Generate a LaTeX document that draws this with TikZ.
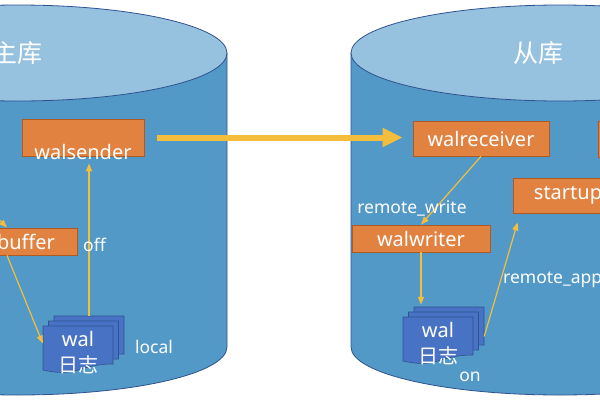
\documentclass[tikz,border=0pt]{standalone}
\usepackage{fontspec}
\setmainfont{Noto Sans}
\newfontfamily\cjk{Noto Sans CJK SC}
\usetikzlibrary{arrows.meta}
\definecolor{body}{HTML}{5299C8}
\definecolor{lid}{HTML}{96C2E0}
\definecolor{rim}{HTML}{2F528F}
\definecolor{procfill}{HTML}{E28241}
\definecolor{procline}{HTML}{AE5A21}
\definecolor{pagefill}{HTML}{4872C4}
\definecolor{flow}{HTML}{F4BE3C}
% one sheet of the wal stack, top left corner given
\newcommand\walpage[2]{%
  \path[page] ({#1},{#2}) -- ({#1+70},{#2}) -- ({#1+70},{#2+38})
    .. controls ({#1+35},{#2+38}) and ({#1+35},{#2+52}) .. ({#1},{#2+44}) -- cycle;}
\begin{document}
\begin{tikzpicture}[x=1pt,y=-1pt,
    cylbody/.style={fill=body,draw=rim,line width=0.8pt},
    cyltop/.style={fill=lid,draw=rim,line width=0.8pt},
    proc/.style={fill=procfill,draw=procline,line width=0.8pt,text=white,
      font=\fontsize{20}{24}\selectfont,inner sep=0pt},
    proctxt/.style={text=white,inner sep=0pt,font=\fontsize{20}{24}\selectfont},
    page/.style={fill=pagefill,draw=rim,line width=0.6pt},
    pagebox/.style={minimum width=70pt,minimum height=47pt,inner sep=0pt},
    doctxt/.style={pagebox,text=white,align=center,font=\fontsize{20}{26}\selectfont},
    lbl/.style={text=white,inner sep=0pt,font=\fontsize{17.5}{20}\selectfont},
    title/.style={text=white,font=\cjk\fontsize{25}{28}\selectfont},
    thin/.style={draw=flow,line width=1.2pt,-{Triangle[width=6pt,length=8pt]}},
    big/.style={draw=flow,line width=6pt,-{Triangle[width=18pt,length=20pt]}}]
  \useasboundingbox (0,0) rectangle (600,400);
  \clip (0,0) rectangle (600,400);

  % the two databases
  \path[cylbody] (227,53) -- (227,347) arc[start angle=0,end angle=180,x radius=209,y radius=48] -- (-191,53) -- cycle;
  \path[cyltop] (18,53) ellipse[x radius=209,y radius=48];
  \path[cylbody] (769,53) -- (769,347) arc[start angle=0,end angle=180,x radius=209,y radius=48] -- (351,53) -- cycle;
  \path[cyltop] (560,53) ellipse[x radius=209,y radius=48];
  \node[title] (mt) at (18,53) {主库};
  \node[title] (st) at (538,53) {从库};

  % wal stacks
  \foreach \s in {2,1,0} {\walpage{43+5.5*\s}{326-5*\s}}
  \foreach \s in {2,1,0} {\walpage{403+5.5*\s}{317-5*\s}}
  \node[pagebox] (lpg) at (89,339.5) {};
  \node[pagebox] (rpg) at (449,330.5) {};
  \node[doctxt] (lwal) at (78,352.5) {wal\\{\cjk 日志}};
  \node[doctxt] (rwal) at (438,343.5) {wal\\{\cjk 日志}};

  % processes
  \node[proc,minimum width=122pt,minimum height=37pt] (ws) at (83,137.5) {};
  \node[proctxt] (wstxt) at (83,152) {walsender};
  \node[proc,minimum width=140pt,minimum height=27pt,text width=96pt,inner xsep=22pt,align=right] (buf) at (7,241.5) {buffer};
  \node[proc,minimum width=136pt,minimum height=35pt] (wr) at (481,138.5) {walreceiver};
  \node[proc,minimum width=100pt,minimum height=36pt] (rx) at (648,139) {};
  \node[proc,minimum width=110pt,minimum height=35pt] (su) at (568,195.5) {startup};
  \node[proc,minimum width=138pt,minimum height=27pt] (ww) at (421,238.5) {walwriter};

  % flows
  \draw[big,shorten <=13pt,shorten >=10pt] (ws.east) -- (ws.east -| wr.west);
  \draw[thin,shorten >=7pt] (lpg.north) -- (lpg.north |- ws.south);
  \coordinate (bin) at (-25,195);
  \draw[thin] (bin) -- (buf.north);
  \draw[thin] (buf.south) -- ([yshift=9pt]lwal.west);
  \draw[thin] (wr.south) -- (ww.north);
  \draw[thin,shorten >=2pt] (ww.south) -- (ww.south |- rpg.north);
  \draw[thin] ([yshift=-6pt]rpg.east) -- ([xshift=5pt,yshift=-9pt]su.south west);

  \node[lbl,anchor=west] (off) at (83,245) {off};
  \node[lbl] (loc) at (154,347) {local};
  \node[lbl] (rwl) at (412,208) {remote\_write};
  \node[lbl] (on) at (470,377) {on};
  \node[lbl,anchor=west] (ra) at (503,279) {remote\_apply};
\end{tikzpicture}
\end{document}
